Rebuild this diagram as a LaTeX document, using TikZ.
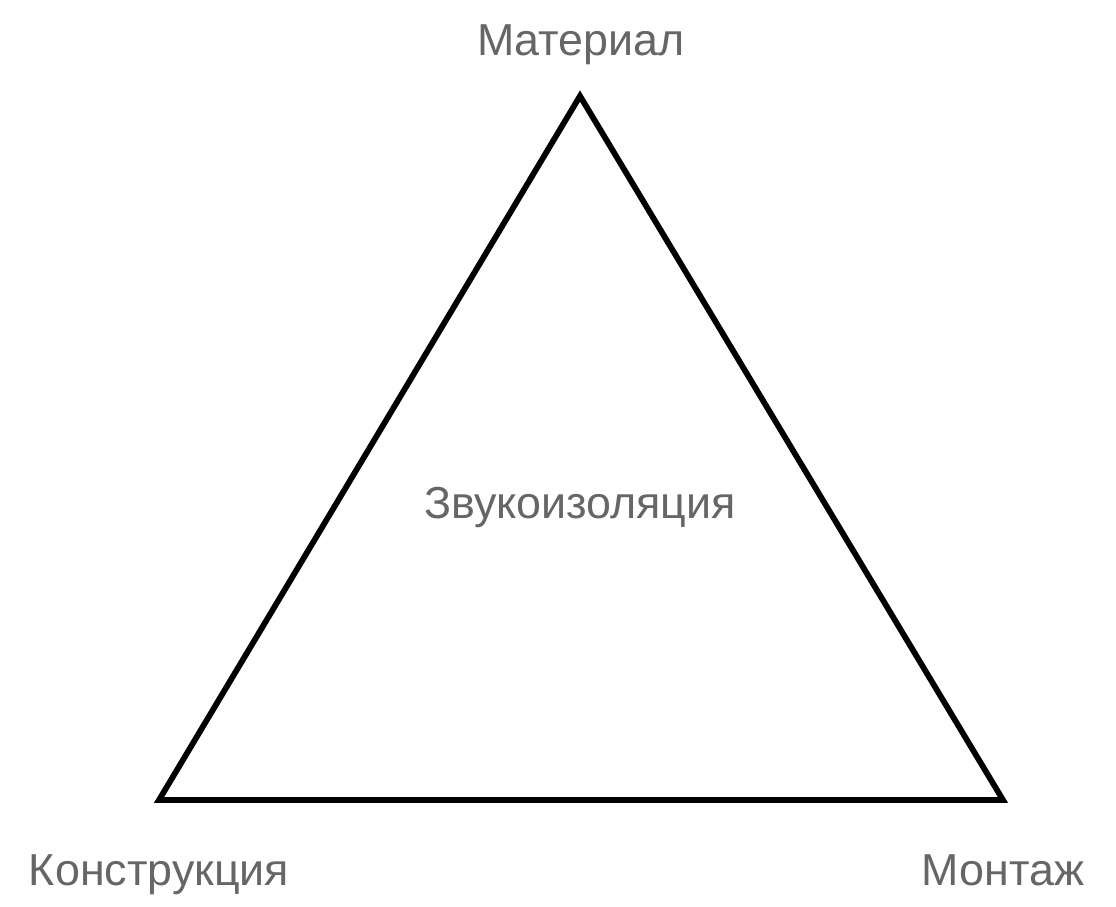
\documentclass[tikz,border=0pt]{standalone}
\usepackage{fontspec}
\setmainfont{Liberation Sans}
\definecolor{labelgray}{HTML}{666666}
\begin{document}
\begin{tikzpicture}[x=1pt,y=-1pt,
  lbl/.style={anchor=base,inner sep=0pt,text=labelgray,font=\fontsize{44.8}{50}\selectfont},
  edge/.style={draw=black,line width=5.8pt,line join=miter}]
\useasboundingbox (0,0) rectangle (1116,906);
\coordinate (top) at (580,96);
\coordinate (bl) at (159,800);
\coordinate (br) at (1003,800);
\draw[edge] (top) -- (bl) -- (br) -- cycle;
\node[lbl] (mat) at (581,55) {Материал};
\node[lbl] (kon) at (159,885) {Конструкция};
\node[lbl] (mon) at (1003,885) {Монтаж};
\node[lbl] (zvu) at (580,518) {Звукоизоляция};
\end{tikzpicture}
\end{document}
